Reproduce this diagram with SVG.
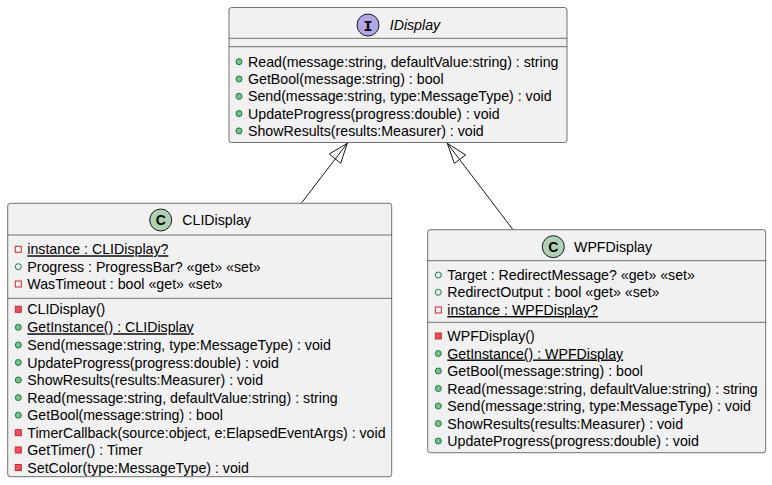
<svg xmlns="http://www.w3.org/2000/svg" width="772" height="485" viewBox="0 0 772 485">
<style>
.box{fill:#F1F1F1;stroke:#181818;stroke-width:0.6}
.div{stroke:#181818;stroke-width:0.6}
.t{font-family:"Liberation Sans",Arial,sans-serif;font-size:14.2px;fill:#000}
.name{font-family:"Liberation Sans",Arial,sans-serif;font-size:14.2px;fill:#000}
.pubm{fill:#84BE84;stroke:#038048;stroke-width:1}
.pubf{fill:none;stroke:#038048;stroke-width:1}
.privf{fill:none;stroke:#C82930;stroke-width:1}
.privm{fill:#F24D5C;stroke:#C82930;stroke-width:1}
.ul{text-decoration:underline}
.edge{fill:none;stroke:#181818;stroke-width:1}
</style>
<rect width="772" height="485" fill="#FFFFFF"/>
<g id="connectors">
<line class="edge" x1="301.7" y1="202.7" x2="347.3" y2="143.3"/>
<polygon class="edge" points="347.3,143.3 329.3,154 340.7,163.3"/>
<line class="edge" x1="512.7" y1="229.3" x2="447.3" y2="143.3"/>
<polygon class="edge" points="447.3,143.3 465.7,155 454.3,163.3"/>
</g>
<g id="IDisplay">
<rect class="box" x="229" y="7.5" width="338" height="135" rx="2.5"/>
<circle cx="368" cy="25" r="11" fill="#B4A7E5" stroke="#181818" stroke-width="1"/>
<text x="368" y="30.5" text-anchor="middle" font-family="Liberation Mono,monospace" font-weight="bold" font-size="15px">I</text>
<text class="name" x="389.7" y="30" font-style="italic">IDisplay</text>
<line class="div" x1="229" y1="38.3" x2="567" y2="38.3"/>
<line class="div" x1="229" y1="46.7" x2="567" y2="46.7"/>
<circle class="pubm" cx="239" cy="61.7" r="3"/>
<text class="t" x="248" y="66.7">Read(message:string, defaultValue:string) : string</text>
<circle class="pubm" cx="239" cy="79" r="3"/>
<text class="t" x="248" y="84">GetBool(message:string) : bool</text>
<circle class="pubm" cx="239" cy="96.3" r="3"/>
<text class="t" x="248" y="101.3">Send(message:string, type:MessageType) : void</text>
<circle class="pubm" cx="239" cy="113.6" r="3"/>
<text class="t" x="248" y="118.6">UpdateProgress(progress:double) : void</text>
<circle class="pubm" cx="239" cy="130.9" r="3"/>
<text class="t" x="248" y="135.9">ShowResults(results:Measurer) : void</text>
</g>
<g id="CLIDisplay">
<rect class="box" x="7.7" y="203.3" width="384" height="273.4" rx="2.5"/>
<circle cx="160.7" cy="220" r="11" fill="#ADD1B2" stroke="#181818" stroke-width="1"/>
<text x="160.7" y="225.2" text-anchor="middle" font-family="Liberation Sans,Arial,sans-serif" font-weight="bold" font-size="14px">C</text>
<text class="name" x="182.3" y="225">CLIDisplay</text>
<line class="div" x1="7.7" y1="235" x2="391.7" y2="235"/>
<rect class="privf" x="15.3" y="246.3" width="6" height="6"/>
<text class="t ul" x="27.3" y="254.3">instance : CLIDisplay?</text>
<circle class="pubf" cx="18.3" cy="266.7" r="3"/>
<text class="t" x="27.3" y="271.7">Progress : ProgressBar? «get» «set»</text>
<rect class="privf" x="15.3" y="281" width="6" height="6"/>
<text class="t" x="27.3" y="289">WasTimeout : bool «get» «set»</text>
<line class="div" x1="7.7" y1="298.3" x2="391.7" y2="298.3"/>
<rect class="privm" x="15.3" y="306.3" width="6" height="6"/>
<text class="t" x="27.3" y="314.3">CLIDisplay()</text>
<circle class="pubm" cx="18.3" cy="327.3" r="3"/>
<text class="t ul" x="27.3" y="332.3">GetInstance() : CLIDisplay</text>
<circle class="pubm" cx="18.3" cy="345" r="3"/>
<text class="t" x="27.3" y="350">Send(message:string, type:MessageType) : void</text>
<circle class="pubm" cx="18.3" cy="362.5" r="3"/>
<text class="t" x="27.3" y="367.5">UpdateProgress(progress:double) : void</text>
<circle class="pubm" cx="18.3" cy="380" r="3"/>
<text class="t" x="27.3" y="385">ShowResults(results:Measurer) : void</text>
<circle class="pubm" cx="18.3" cy="397.6" r="3"/>
<text class="t" x="27.3" y="402.6">Read(message:string, defaultValue:string) : string</text>
<circle class="pubm" cx="18.3" cy="415.2" r="3"/>
<text class="t" x="27.3" y="420.2">GetBool(message:string) : bool</text>
<rect class="privm" x="15.3" y="429.7" width="6" height="6"/>
<text class="t" x="27.3" y="437.7">TimerCallback(source:object, e:ElapsedEventArgs) : void</text>
<rect class="privm" x="15.3" y="447" width="6" height="6"/>
<text class="t" x="27.3" y="455">GetTimer() : Timer</text>
<rect class="privm" x="15.3" y="464.5" width="6" height="6"/>
<text class="t" x="27.3" y="472.5">SetColor(type:MessageType) : void</text>
</g>
<g id="WPFDisplay">
<rect class="box" x="427.7" y="229.7" width="338" height="223" rx="2.5"/>
<circle cx="553.3" cy="246.7" r="11" fill="#ADD1B2" stroke="#181818" stroke-width="1"/>
<text x="553.3" y="251.9" text-anchor="middle" font-family="Liberation Sans,Arial,sans-serif" font-weight="bold" font-size="14px">C</text>
<text class="name" x="574" y="251.7">WPFDisplay</text>
<line class="div" x1="427.7" y1="260.7" x2="765.7" y2="260.7"/>
<circle class="pubf" cx="438.3" cy="275" r="3"/>
<text class="t" x="447.3" y="280">Target : RedirectMessage? «get» «set»</text>
<circle class="pubf" cx="438.3" cy="292.3" r="3"/>
<text class="t" x="447.3" y="297.3">RedirectOutput : bool «get» «set»</text>
<rect class="privf" x="435.3" y="307" width="6" height="6"/>
<text class="t ul" x="447.3" y="315">instance : WPFDisplay?</text>
<line class="div" x1="427.7" y1="322.3" x2="765.7" y2="322.3"/>
<rect class="privm" x="435.3" y="333" width="6" height="6"/>
<text class="t" x="447.3" y="341">WPFDisplay()</text>
<circle class="pubm" cx="438.3" cy="353.5" r="3"/>
<text class="t ul" x="447.3" y="358.5">GetInstance() : WPFDisplay</text>
<circle class="pubm" cx="438.3" cy="371" r="3"/>
<text class="t" x="447.3" y="376">GetBool(message:string) : bool</text>
<circle class="pubm" cx="438.3" cy="388.5" r="3"/>
<text class="t" x="447.3" y="393.5">Read(message:string, defaultValue:string) : string</text>
<circle class="pubm" cx="438.3" cy="406" r="3"/>
<text class="t" x="447.3" y="411">Send(message:string, type:MessageType) : void</text>
<circle class="pubm" cx="438.3" cy="423.5" r="3"/>
<text class="t" x="447.3" y="428.5">ShowResults(results:Measurer) : void</text>
<circle class="pubm" cx="438.3" cy="441" r="3"/>
<text class="t" x="447.3" y="446">UpdateProgress(progress:double) : void</text>
</g>
</svg>
